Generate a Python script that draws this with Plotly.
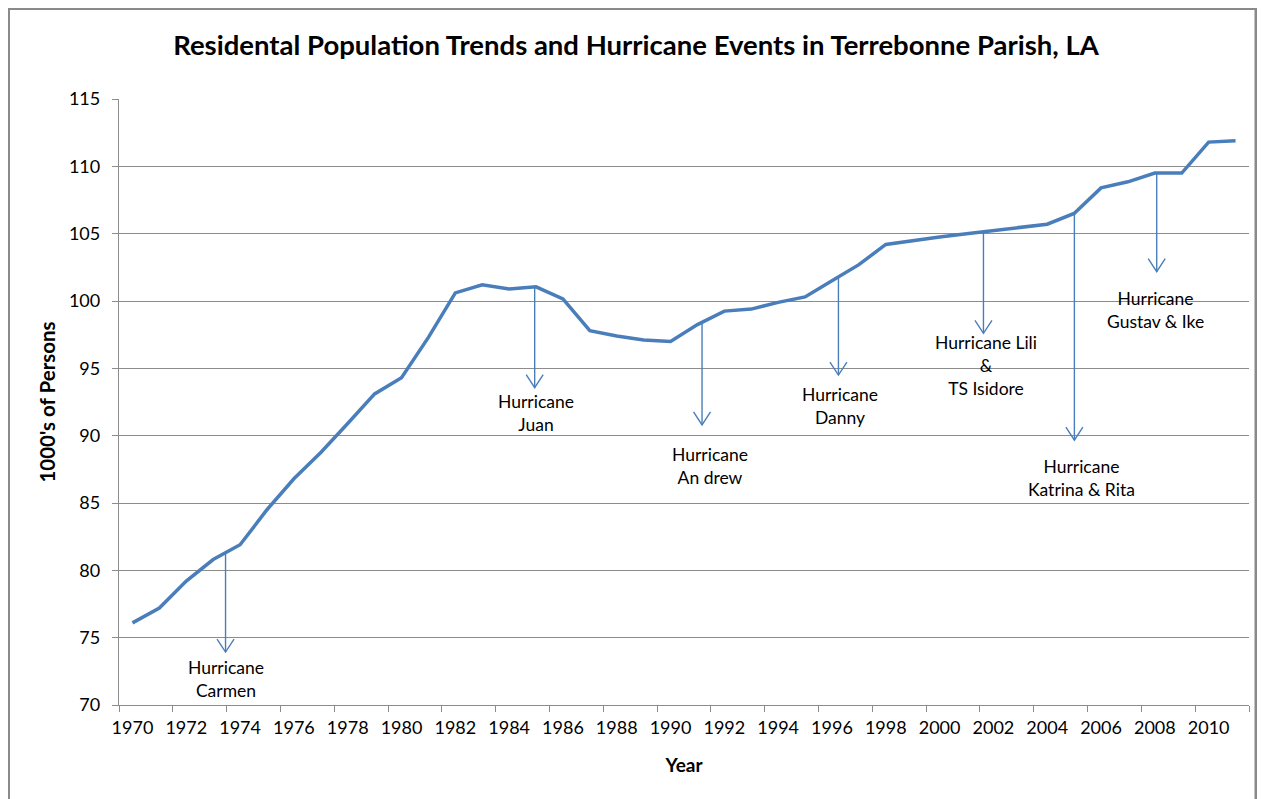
import plotly.graph_objects as go

# ---------------- data ----------------
years = list(range(1970, 2012))
population = [76.1, 77.2, 79.2, 80.8, 81.9, 84.5, 86.8, 88.75, 90.9, 93.1,
              94.3, 97.3, 100.6, 101.2, 100.9, 101.05, 100.15, 97.8, 97.4, 97.1,
              97.0, 98.25, 99.25, 99.4, 99.9, 100.3, 101.5, 102.7, 104.2, 104.5,
              104.75, 105.0, 105.25, 105.5, 105.7, 106.5, 108.4, 108.85, 109.5, 109.5,
              111.8, 111.9]

x_tick_vals = list(range(1970, 2011, 2))
x_tick_text = [str(v) for v in x_tick_vals]
y_tick_vals = list(range(70, 116, 5))

storm_labels = ["Hurricane<br>Carmen", "Hurricane<br>Juan", "Hurricane<br>An drew",
                "Hurricane<br>Danny", "Hurricane Lili<br>&<br>TS Isidore",
                "Hurricane<br>Katrina & Rita", "Hurricane<br>Gustav & Ike"]
storm_x = [1973.46, 1984.95, 1991.17, 1996.24, 2001.63, 2005.01, 2008.07]
storm_start = [81.3, 101.0, 98.4, 101.8, 105.15, 106.5, 109.5]
storm_tip = [73.93, 93.56, 90.8, 94.5, 97.6, 89.67, 102.18]
label_x = [1973.47, 1985.0, 1991.47, 1996.30, 2001.73, 2005.29, 2008.02]
label_top = [73.75, 93.45, 89.55, 94.0, 97.85, 88.65, 101.15]

# ---------------- figure ----------------
# the page has an 8px body margin, so the figure is placed at (8, 8)
OFF = 8
W, H = 1265 - OFF, 799 - OFF
L, R, T, B = 119 - OFF, 24 - OFF, 99 - OFF, 94
pw, ph = W - L - R, H - T - B

def px_to_paper_x(px):
    return (px - OFF - L) / pw

def px_to_paper_y(py):
    return (H - B - (py - OFF)) / ph

FONT = "Lato"
BLUE = "#4A7EBB"
GRID = "#8C8C8C"

# arrowhead half-width / height, expressed in axis units (8.5px / 13px)
X_PER_PX = 42.0 / pw
Y_PER_PX = 45.0 / ph
HEAD_DX = 8.5 * X_PER_PX
HEAD_DY = 13 * Y_PER_PX

fig = go.Figure()
fig.add_trace(go.Scatter(x=years, y=population, mode="lines",
                         line=dict(color=BLUE, width=3.5), hoverinfo="x+y",
                         showlegend=False))

# arrows: shaft from the curve down to the tip, plus an open V head
ax_pts, ay_pts = [], []
for i in range(len(storm_x)):
    xs, y0, y1 = storm_x[i], storm_start[i], storm_tip[i]
    ax_pts += [xs, xs, None, xs - HEAD_DX, xs, xs + HEAD_DX, None]
    ay_pts += [y0, y1, None, y1 + HEAD_DY, y1, y1 + HEAD_DY, None]
fig.add_trace(go.Scatter(x=ax_pts, y=ay_pts, mode="lines",
                         line=dict(color=BLUE, width=1.4), hoverinfo="skip",
                         showlegend=False))

annotations = []
for i in range(len(storm_labels)):
    annotations.append(dict(x=label_x[i], y=label_top[i], xref="x", yref="y",
                            text=storm_labels[i], showarrow=False, xanchor="center",
                            yanchor="top", align="center",
                            font=dict(family=FONT, size=17.5, color="#000000")))

fig.update_layout(
    width=W, height=H,
    margin=dict(l=L, r=R, t=T, b=B, autoexpand=False),
    paper_bgcolor="white", plot_bgcolor="white",
    title=dict(text="<b>Residental Population Trends and Hurricane Events in Terrebonne Parish, LA</b>",
               x=(636 - OFF) / W, xref="container", xanchor="center",
               y=1 - (45 - OFF) / H, yref="container", yanchor="middle",
               font=dict(family=FONT, size=27.5, color="#000000")),
    xaxis=dict(range=[1969.5, 2011.5], tickmode="array", tickvals=x_tick_vals,
               ticktext=x_tick_text, ticks="", showgrid=False, zeroline=False,
               showline=True, linecolor=GRID, linewidth=1.3,
               tickfont=dict(family=FONT, size=18, color="#000000"),
               ticklabelstandoff=6,
               minor=dict(tick0=1969.5, dtick=2, ticks="outside", ticklen=6,
                          tickcolor=GRID, tickwidth=1.2, showgrid=False),
               title=dict(text="<b>Year</b>", standoff=21,
                          font=dict(family=FONT, size=19, color="#000000"))),
    yaxis=dict(range=[70, 115], tickmode="array", tickvals=y_tick_vals,
               ticks="outside", ticklen=6, tickcolor=GRID, tickwidth=1.2,
               showgrid=True, gridcolor=GRID, gridwidth=1.2, zeroline=False,
               showline=True, linecolor=GRID, linewidth=1.3,
               tickfont=dict(family=FONT, size=18, color="#000000"),
               ticklabelstandoff=8,
               title=dict(text="<b>1000's of Persons</b>", standoff=7,
                          font=dict(family=FONT, size=20.5, color="#000000"))),
    annotations=annotations,
    shapes=[dict(type="rect", xref="paper", yref="paper",
                 x0=px_to_paper_x(8.5), x1=px_to_paper_x(1256),
                 y0=px_to_paper_y(802), y1=px_to_paper_y(8.5),
                 line=dict(color="#8A8A8A", width=3), fillcolor="rgba(0,0,0,0)",
                 layer="below")],
)

fig.write_html("out.html")
